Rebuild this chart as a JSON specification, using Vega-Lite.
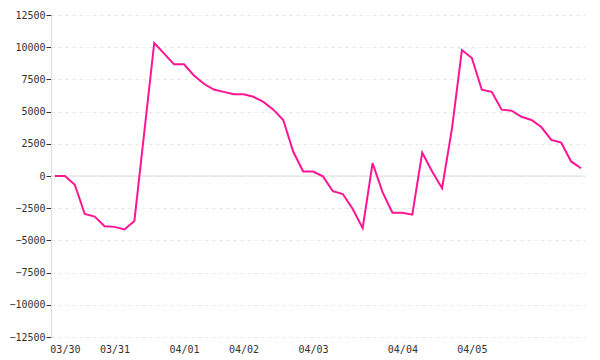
{
  "$schema": "https://vega.github.io/schema/vega-lite/v6.json",
  "autosize": "none",
  "width": 534,
  "height": 322,
  "padding": {"left": 51, "top": 15, "right": 15, "bottom": 23},
  "background": "white",
  "config": {
    "view": {"stroke": null},
    "axis": {"labelFont": "DejaVu Sans Mono", "labelFontSize": 10, "labelColor": "#333333"}
  },
  "data": {
    "values": [
      {"i": 0, "v": 0}, {"i": 1, "v": 0}, {"i": 2, "v": -680}, {"i": 3, "v": -2950},
      {"i": 4, "v": -3150}, {"i": 5, "v": -3900}, {"i": 6, "v": -3950}, {"i": 7, "v": -4150},
      {"i": 8, "v": -3500}, {"i": 9, "v": 3400}, {"i": 10, "v": 10330}, {"i": 11, "v": 9500},
      {"i": 12, "v": 8670}, {"i": 13, "v": 8670}, {"i": 14, "v": 7800}, {"i": 15, "v": 7160},
      {"i": 16, "v": 6710}, {"i": 17, "v": 6530}, {"i": 18, "v": 6340}, {"i": 19, "v": 6340},
      {"i": 20, "v": 6150}, {"i": 21, "v": 5750}, {"i": 22, "v": 5150}, {"i": 23, "v": 4350},
      {"i": 24, "v": 1900}, {"i": 25, "v": 350}, {"i": 26, "v": 350}, {"i": 27, "v": -30},
      {"i": 28, "v": -1180}, {"i": 29, "v": -1400}, {"i": 30, "v": -2560}, {"i": 31, "v": -4050},
      {"i": 32, "v": 1000}, {"i": 33, "v": -1250}, {"i": 34, "v": -2850}, {"i": 35, "v": -2850},
      {"i": 36, "v": -3000}, {"i": 37, "v": 1810}, {"i": 38, "v": 350}, {"i": 39, "v": -950},
      {"i": 40, "v": 3700}, {"i": 41, "v": 9780}, {"i": 42, "v": 9160}, {"i": 43, "v": 6700},
      {"i": 44, "v": 6540}, {"i": 45, "v": 5150}, {"i": 46, "v": 5070}, {"i": 47, "v": 4600},
      {"i": 48, "v": 4350}, {"i": 49, "v": 3800}, {"i": 50, "v": 2800}, {"i": 51, "v": 2600},
      {"i": 52, "v": 1130}, {"i": 53, "v": 600}
    ]
  },
  "encoding": {
    "x": {
      "field": "i",
      "type": "quantitative",
      "scale": {"domain": [-0.4, 53.4], "nice": false, "zero": false},
      "axis": {
        "title": null,
        "grid": false,
        "domain": false,
        "ticks": false,
        "labelPadding": 7,
        "values": [1, 6, 13, 19, 26, 35, 42],
        "labelExpr": "datum.value==1?'03/30':datum.value==6?'03/31':datum.value==13?'04/01':datum.value==19?'04/02':datum.value==26?'04/03':datum.value==35?'04/04':'04/05'",
        "labelFlush": false,
        "labelOverlap": false
      }
    },
    "y": {
      "field": "v",
      "type": "quantitative",
      "scale": {"domain": [-12500, 12500], "nice": false},
      "axis": {
        "title": null,
        "values": [-12500, -10000, -7500, -5000, -2500, 0, 2500, 5000, 7500, 10000, 12500],
        "format": "d",
        "grid": true,
        "gridColor": "#e6e6e6",
        "gridDash": [3, 4],
        "domain": true,
        "domainColor": "#dddddd",
        "tickColor": "#333333",
        "tickSize": 5,
        "labelPadding": 1
      }
    }
  },
  "layer": [
    {
      "mark": {"type": "rule", "color": "#dddddd", "strokeWidth": 1},
      "data": {"values": [{"z": 0}]},
      "encoding": {"y": {"field": "z", "type": "quantitative"}, "x": null}
    },
    {
      "mark": {"type": "line", "color": "#ff1493", "strokeWidth": 2}
    }
  ]
}
